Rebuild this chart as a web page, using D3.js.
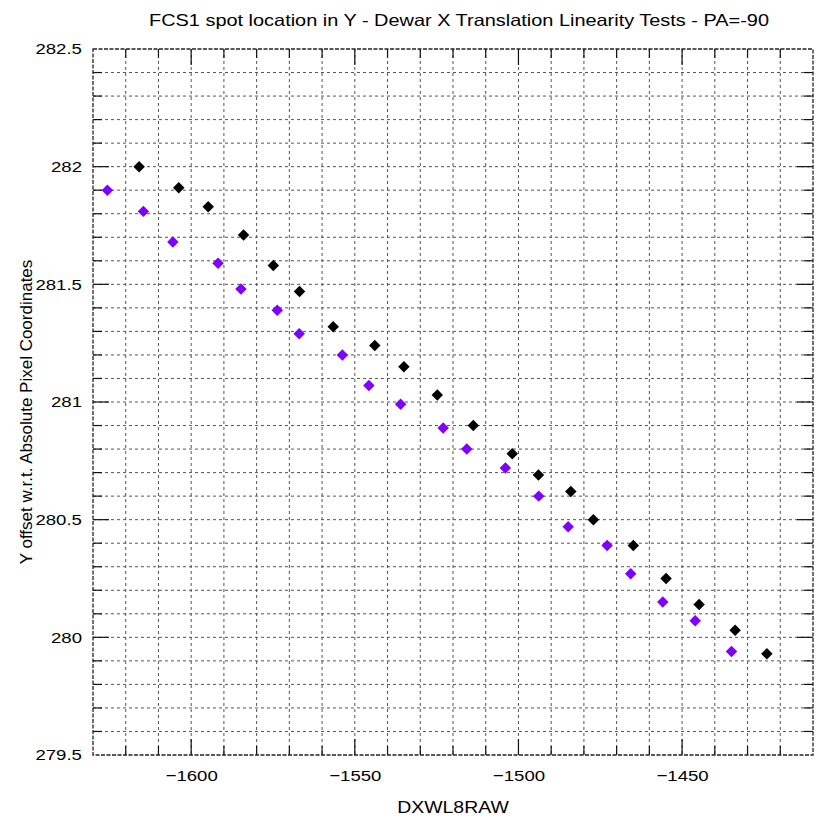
<!DOCTYPE html>
<html>
<head>
<meta charset="utf-8">
<script src="https://cdn.jsdelivr.net/npm/d3@7"></script>
<style>
  html, body { margin: 0; padding: 0; background: #fff; }
  svg { display: block; }
  text { font-family: "Liberation Sans", Arial, sans-serif; fill: #000; }
</style>
</head>
<body>
<svg id="chart" width="824" height="825"></svg>
<script>
// Spot Y position versus DXWL8RAW, two measurement runs
const chartTitle = "FCS1 spot location in Y - Dewar X Translation Linearity Tests - PA=-90";
const xTitle = "DXWL8RAW";
const yTitle = "Y offset w.r.t. Absolute Pixel Coordinates";

const xTicks = [-1600, -1550, -1500, -1450];
const yTicks = [279.5, 280, 280.5, 281, 281.5, 282, 282.5];

const blackX = [-1615.9, -1603.8, -1594.8, -1584.0, -1574.9, -1566.9, -1556.6, -1543.9, -1535.0, -1524.8,
                -1513.8, -1501.9, -1493.9, -1484.0, -1477.1, -1464.9, -1454.9, -1444.8, -1433.8, -1424.1];
const blackY = [282.00, 281.91, 281.83, 281.71, 281.58, 281.47, 281.32, 281.24, 281.15, 281.03,
                280.90, 280.78, 280.69, 280.62, 280.50, 280.39, 280.25, 280.14, 280.03, 279.93];

const purpleX = [-1625.6, -1614.6, -1605.6, -1591.8, -1584.8, -1573.7, -1567.0, -1553.8, -1545.7, -1536.0,
                 -1523.0, -1515.8, -1504.0, -1493.8, -1484.8, -1472.9, -1465.7, -1455.9, -1446.0, -1434.9];
const purpleY = [281.90, 281.81, 281.68, 281.59, 281.48, 281.39, 281.29, 281.20, 281.07, 280.99,
                 280.89, 280.80, 280.72, 280.60, 280.47, 280.39, 280.27, 280.15, 280.07, 279.94];

const svg = d3.select("#chart");
const m = { left: 93, right: 813, top: 49, bottom: 755 };

const x = d3.scaleLinear().domain([-1630, -1410]).range([m.left, m.right]);
const y = d3.scaleLinear().domain([279.5, 282.5]).range([m.bottom, m.top]);

const gridStroke = "#555";
const stretch = 1.2;   // wide lettering used throughout

// dotted grid on the minor tick spacing
const xGrid = d3.range(-1620, -1410, 10);
const yGrid = d3.range(1, 30).map(i => 279.5 + i * 0.1);

svg.append("g").selectAll("line").data(xGrid).join("line")
  .attr("x1", d => x(d)).attr("x2", d => x(d))
  .attr("y1", m.top).attr("y2", m.bottom)
  .attr("stroke", gridStroke).attr("stroke-width", 1)
  .attr("stroke-dasharray", "3,3");

svg.append("g").selectAll("line").data(yGrid).join("line")
  .attr("x1", m.left).attr("x2", m.right)
  .attr("y1", d => y(d)).attr("y2", d => y(d))
  .attr("stroke", gridStroke).attr("stroke-width", 1)
  .attr("stroke-dasharray", "3,3");

// tick marks on all four sides
const ticks = svg.append("g").attr("stroke", "#111").attr("stroke-width", 1.2);
const majorLen = 16, minorLen = 9;
xGrid.forEach(v => {
  const len = xTicks.includes(v) ? majorLen : minorLen;
  ticks.append("line").attr("x1", x(v)).attr("x2", x(v)).attr("y1", m.bottom).attr("y2", m.bottom - len);
  ticks.append("line").attr("x1", x(v)).attr("x2", x(v)).attr("y1", m.top).attr("y2", m.top + len);
});
yGrid.forEach(v => {
  const len = yTicks.some(t => Math.abs(t - v) < 1e-6) ? majorLen : minorLen;
  ticks.append("line").attr("y1", y(v)).attr("y2", y(v)).attr("x1", m.left).attr("x2", m.left + len);
  ticks.append("line").attr("y1", y(v)).attr("y2", y(v)).attr("x1", m.right).attr("x2", m.right - len);
});

// frame
svg.append("rect")
  .attr("x", m.left).attr("y", m.top)
  .attr("width", m.right - m.left).attr("height", m.bottom - m.top)
  .attr("fill", "none").attr("stroke", "#222").attr("stroke-width", 1.3)
  .attr("stroke-dasharray", "4,1.5");

// axis labels via d3 axes (domain path and tick lines hidden)
const xAxis = svg.append("g")
  .attr("transform", `translate(0,${m.bottom})`)
  .call(d3.axisBottom(x).tickValues(xTicks).tickFormat(d3.format("d")).tickSize(0).tickPadding(15));
const yAxis = svg.append("g")
  .attr("transform", `translate(${m.left},0)`)
  .call(d3.axisLeft(y).tickValues(yTicks).tickFormat(d => String(d)).tickSize(0).tickPadding(9.2));
[xAxis, yAxis].forEach(g => {
  g.select(".domain").remove();
  g.selectAll("text")
    .attr("font-size", 15.5)
    .attr("font-family", "Liberation Sans, Arial, sans-serif")
    .attr("fill", "#000")
    .attr("transform", `scale(${stretch},1)`);
});
xAxis.selectAll("text").attr("dy", "0.71em");

// markers: filled diamonds
const diamond = d3.symbol().type(d3.symbolDiamond2).size(84);
function drawSeries(xs, ys, color) {
  svg.append("g").selectAll("path").data(xs.map((v, i) => [v, ys[i]])).join("path")
    .attr("d", diamond)
    .attr("transform", d => `translate(${x(d[0])},${y(d[1])})`)
    .attr("fill", color);
}
drawSeries(blackX, blackY, "#000");
drawSeries(purpleX, purpleY, "#7f00ff");

// titles
svg.append("text")
  .attr("x", 459).attr("y", 26)
  .attr("text-anchor", "middle").attr("font-size", 16.5)
  .attr("textLength", 620).attr("lengthAdjust", "spacingAndGlyphs")
  .text(chartTitle);

svg.append("text")
  .attr("transform", `translate(${(m.left + m.right) / 2},813) scale(1.18,1)`)
  .attr("text-anchor", "middle").attr("font-size", 16.5)
  .text(xTitle);

svg.append("text")
  .attr("transform", `translate(32,412) rotate(-90)`)
  .attr("text-anchor", "middle").attr("font-size", 17)
  .text(yTitle);
</script>
</body>
</html>
